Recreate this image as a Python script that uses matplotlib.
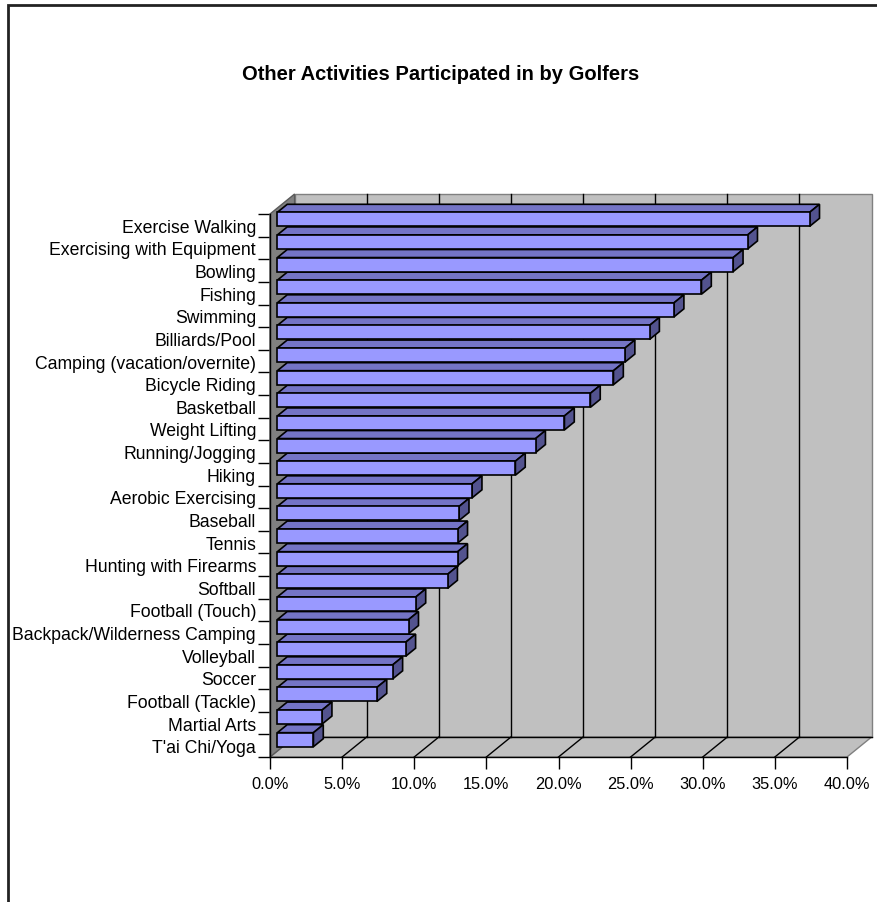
import matplotlib
matplotlib.use("Agg")
import matplotlib.pyplot as plt
from matplotlib.patches import Polygon, Rectangle

# Share of golfers who also take part in each activity (percent)
activities = [
    "Exercise Walking", "Exercising with Equipment", "Bowling", "Fishing",
    "Swimming", "Billiards/Pool", "Camping (vacation/overnite)", "Bicycle Riding",
    "Basketball", "Weight Lifting", "Running/Jogging", "Hiking",
    "Aerobic Exercising", "Baseball", "Tennis", "Hunting with Firearms",
    "Softball", "Football (Touch)", "Backpack/Wilderness Camping", "Volleyball",
    "Soccer", "Football (Tackle)", "Martial Arts", "T'ai Chi/Yoga",
]
shares = [
    36.9, 32.6, 31.6, 29.4,
    27.5, 25.8, 24.1, 23.3,
    21.7, 19.9, 17.9, 16.5,
    13.5, 12.6, 12.5, 12.5,
    11.8, 9.6, 9.1, 8.9,
    8.0, 6.9, 3.1, 2.5,
]
x_ticks = [0, 5, 10, 15, 20, 25, 30, 35, 40]
x_tick_labels = ["0.0%", "5.0%", "10.0%", "15.0%", "20.0%", "25.0%", "30.0%", "35.0%", "40.0%"]
title = "Other Activities Participated in by Golfers"

plt.rcParams["font.family"] = ["Liberation Sans", "DejaVu Sans"]

W, H = 877, 903
fig = plt.figure(figsize=(W / 100, H / 100), dpi=100)
fig.patch.set_facecolor("white")

# Axes box is the front plane of the 3-D plot area
left, right, top, bottom = 270, 847, 215, 758
ax = fig.add_axes([left / W, 1 - bottom / H, (right - left) / W, (bottom - top) / H])
ax.set_facecolor("none")
n = len(activities)
ax.set_xlim(0, 40)
ax.set_ylim(0, n)

# oblique depth offset (full depth) in data units
px_per_x = (right - left) / 40.0
px_per_y = (bottom - top) / n
DX = 24.6 / px_per_x
DY = 20.0 / px_per_y

wall = "#C0C0C0"
side_wall = "#808080"
edge_gray = "#808080"

def poly(pts, fc, ec, lw=1.0, z=1):
    ax.add_patch(Polygon(pts, closed=True, facecolor=fc, edgecolor=ec,
                         linewidth=lw, clip_on=False, zorder=z, joinstyle="miter"))

# back wall
poly([(DX, DY), (40 + DX, DY), (40 + DX, n + DY), (DX, n + DY)], wall, edge_gray, z=1)
# floor
poly([(0, 0), (40, 0), (40 + DX, DY), (DX, DY)], wall, edge_gray, z=1)
# gridlines on back wall and floor
for t in x_ticks[1:-1]:
    ax.plot([t + DX, t + DX], [DY, n + DY], color="black", lw=1.0, clip_on=False, zorder=2)
for t in x_ticks[1:-1]:
    ax.plot([t, t + DX], [0, DY], color="black", lw=1.0, clip_on=False, zorder=2)
ax.plot([DX, 40 + DX], [DY, DY], color="black", lw=1.0, clip_on=False, zorder=2)
# left side wall
poly([(0, 0), (DX, DY), (DX, n + DY), (0, n)], side_wall, "#5a5a5a", z=3)

# bars
front_c = "#9999FF"
top_c = "#7474C6"
end_c = "#53538F"
d0, d1 = 0.30, 0.70
half = 0.31
for i in range(n - 1, -1, -1):
    v = shares[i]
    yc = n - (i + 0.5)
    y0, y1 = yc - half, yc + half
    ax0, ay0 = d0 * DX, d0 * DY
    ax1, ay1 = d1 * DX, d1 * DY
    z = 10 + (n - i)
    # top face
    poly([(ax0, y1 + ay0), (v + ax0, y1 + ay0), (v + ax1, y1 + ay1), (ax1, y1 + ay1)],
         top_c, "black", lw=1.2, z=z)
    # end face
    poly([(v + ax0, y0 + ay0), (v + ax0, y1 + ay0), (v + ax1, y1 + ay1), (v + ax1, y0 + ay1)],
         end_c, "black", lw=1.2, z=z)
    # front face
    poly([(ax0, y0 + ay0), (v + ax0, y0 + ay0), (v + ax0, y1 + ay0), (ax0, y1 + ay0)],
         front_c, "black", lw=1.2, z=z)

# axes lines
for s in ("top", "right"):
    ax.spines[s].set_visible(False)
for s in ("left", "bottom"):
    ax.spines[s].set_color("black")
    ax.spines[s].set_linewidth(1.0)
    ax.spines[s].set_zorder(5)

ax.set_xticks(x_ticks)
ax.set_xticklabels(x_tick_labels, fontsize=11.8)
ax.tick_params(axis="x", direction="out", length=8.6, width=1.0, color="black", pad=5)

centers = [n - (i + 0.5) for i in range(n)]
ax.set_yticks(centers)
ax.set_yticklabels(activities, fontsize=12.7)
ax.set_yticks(range(n + 1), minor=True)
ax.tick_params(axis="y", which="major", length=0, pad=10)
ax.tick_params(axis="y", which="minor", direction="out", length=8.6, width=1.0, color="black")

fig.text(441 / W, 1 - 75 / H, title, ha="center", va="center",
         fontsize=14.5, fontweight="bold")

# chart frame
fig.patches.append(Rectangle((7.5 / W, -0.1), 1.2, 1 - 5.5 / H + 0.1,
                             transform=fig.transFigure, fill=False,
                             edgecolor="#222222", linewidth=2.0))

fig.savefig("out.png", dpi=100, facecolor="white")
